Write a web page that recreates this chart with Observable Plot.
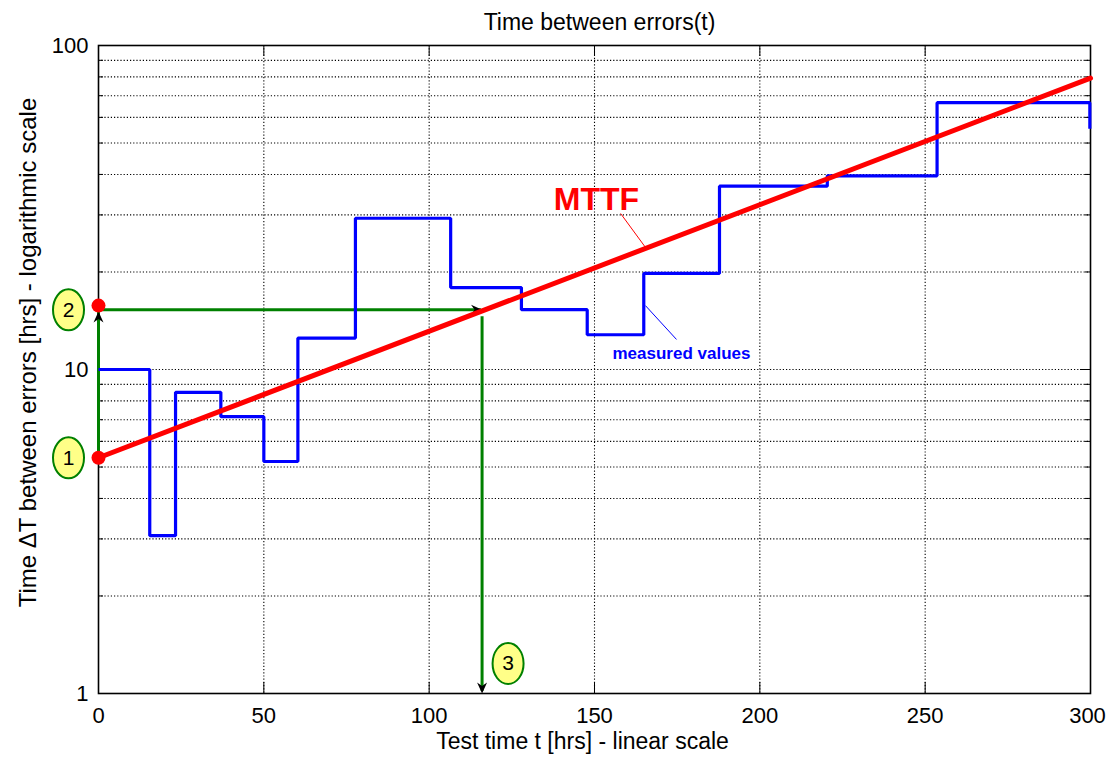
<!DOCTYPE html>
<html>
<head>
<meta charset="utf-8">
<script src="https://cdn.jsdelivr.net/npm/d3@7"></script>
<script src="https://cdn.jsdelivr.net/npm/@observablehq/plot@0.6"></script>
<style>
  html, body { margin: 0; padding: 0; background: #fff; }
  #chart svg { display: block; }
</style>
</head>
<body>
<div id="chart"></div>
<script>
// ---- Data ----
// measured step values: interval start times [hrs] and time between errors [hrs]
const stepStart = [0, 15.5, 23.3, 37, 50, 60.3, 77.7, 106.5, 127.9, 147.8, 164.9, 187.8, 220.4, 253.6];
const stepValue = [10, 3.07, 8.5, 7.15, 5.2, 12.5, 29.3, 17.9, 15.3, 12.8, 19.8, 36.8, 39.6, 66.6];
const stepEndT = 299.8;
const stepEndValue = 55.3;

// MTTF regression line (end points)
const mttfT = [0, 300];
const mttfV = [5.34, 79.3];

// construction points 1, 2, 3
const point1 = {t: 0, v: 5.34};
const point2 = {t: 0, v: 15.75};
const readT = 116;          // point 3 on the time axis
const readV = 15.28;        // MTTF value at point 3

// axes / ticks
const xTicks = [0, 50, 100, 150, 200, 250];
const xLastTick = [300];
const yTicks = [1, 10, 100];
const yMinor = [2, 3, 4, 5, 6, 7, 8, 9, 20, 30, 40, 50, 60, 70, 80, 90];
const xGrid = [50, 100, 150, 200, 250];
const yGrid = [2, 3, 4, 5, 6, 7, 8, 9, 10, 20, 30, 40, 50, 60, 70, 80, 90];

// texts
const title = "Time between errors(t)";
const xLabel = "Test time t [hrs] - linear scale";
const yLabel = "Time \u0394T between errors [hrs] - logarithmic scale";

// ---- Build tables ----
const steps = stepStart.map((t, i) => ({t, v: stepValue[i]}));
steps.push({t: stepEndT, v: stepValue[stepValue.length - 1]});
steps.push({t: stepEndT, v: stepEndValue});
const mttf = mttfT.map((t, i) => ({t, v: mttfV[i]}));

const W = 1106, H = 757, mL = 98, mR = 16, mT = 45, mB = 64;
const innerW = W - mL - mR, innerH = H - mT - mB;
const green = "#008000";
const font = "'Liberation Sans', Arial, Helvetica, sans-serif";

const ellipseSymbol = {
  draw(ctx) {
    const rx = 15.5, ry = 20.5, k = 0.5523;
    ctx.moveTo(rx, 0);
    ctx.bezierCurveTo(rx, ry * k, rx * k, ry, 0, ry);
    ctx.bezierCurveTo(-rx * k, ry, -rx, ry * k, -rx, 0);
    ctx.bezierCurveTo(-rx, -ry * k, -rx * k, -ry, 0, -ry);
    ctx.bezierCurveTo(rx * k, -ry, rx, -ry * k, rx, 0);
    ctx.closePath();
  }
};
const arrowSymbol = {
  draw(ctx) {
    ctx.moveTo(0, 0);
    ctx.lineTo(5, 11);
    ctx.lineTo(0, 7.5);
    ctx.lineTo(-5, 11);
    ctx.closePath();
  }
};

const leftLabels = [
  {t: point1.t, v: point1.v, text: "1"},
  {t: point2.t, v: readV, text: "2"}
];
const axisLabel = [{t: readT, v: 1, text: "3"}];

function badge(data, dx, dy) {
  return [
    Plot.dot(data, {x: "t", y: "v", dx, dy, symbol: ellipseSymbol, fill: "#ffff88", stroke: green, strokeWidth: 2}),
    Plot.text(data, {x: "t", y: "v", dx, dy, text: "text", fontSize: 21, fill: "black"})
  ];
}

const gridStyle = {stroke: "black", strokeWidth: 1.1, strokeDasharray: "1.2,2", strokeOpacity: 1};

const chart = Plot.plot({
  width: W, height: H,
  marginLeft: mL, marginRight: mR, marginTop: mT, marginBottom: mB,
  style: {fontFamily: font, fontSize: "22px", background: "white", color: "black", overflow: "visible"},
  x: {domain: [0, 300]},
  y: {type: "log", domain: [1, 100]},
  marks: [
    // dotted grid
    Plot.ruleY(yGrid, gridStyle),
    Plot.ruleX(xGrid, gridStyle),
    // inward ticks
    Plot.tickY(yMinor, {y: d => d, insetRight: innerW - 5, stroke: "black"}),
    Plot.tickY(yMinor, {y: d => d, insetLeft: innerW - 5, stroke: "black"}),
    Plot.tickY([10], {y: d => d, insetRight: innerW - 10, stroke: "black"}),
    Plot.tickY([10], {y: d => d, insetLeft: innerW - 10, stroke: "black"}),
    Plot.tickX(xGrid, {x: d => d, insetTop: innerH - 11, stroke: "black"}),
    Plot.tickX(xGrid, {x: d => d, insetBottom: innerH - 11, stroke: "black"}),
    Plot.frame({stroke: "black", strokeWidth: 1.6}),
    // axes labels
    Plot.axisX(xTicks, {tickSize: 0, tickPadding: 14, fontSize: 22, label: null, tickFormat: d => String(d)}),
    Plot.axisX(xLastTick, {tickSize: 0, tickPadding: 14, fontSize: 22, label: null, dx: -3, tickFormat: d => String(d)}),
    Plot.axisY(yTicks, {tickSize: 0, tickPadding: 10, fontSize: 22, label: null, tickFormat: d => String(d)}),
    // green construction lines
    Plot.link([{t1: point1.t, v1: point1.v, t2: point2.t, v2: 15.1}], {x1: "t1", y1: "v1", x2: "t2", y2: "v2", stroke: green, strokeWidth: 3}),
    Plot.link([{t1: point2.t, v1: readV, t2: readT - 0.3, v2: readV}], {x1: "t1", y1: "v1", x2: "t2", y2: "v2", stroke: green, strokeWidth: 3}),
    Plot.link([{t1: readT, v1: 14.6, t2: readT, v2: 1.02}], {x1: "t1", y1: "v1", x2: "t2", y2: "v2", stroke: green, strokeWidth: 3}),
    // arrowheads
    Plot.dot([{t: point2.t, v: 15.1}], {x: "t", y: "v", symbol: arrowSymbol, fill: "black", stroke: "none", rotate: 0}),
    Plot.dot([{t: readT, v: readV}], {x: "t", y: "v", symbol: arrowSymbol, fill: "black", stroke: "none", rotate: 90}),
    Plot.dot([{t: readT, v: 1}], {x: "t", y: "v", symbol: arrowSymbol, fill: "black", stroke: "none", rotate: 180}),
    // measured values (step line)
    Plot.line(steps, {x: "t", y: "v", curve: "step-after", stroke: "#0000ff", strokeWidth: 3.2, strokeLinejoin: "miter", strokeLinecap: "butt"}),
    // MTTF line
    Plot.line(mttf, {x: "t", y: "v", stroke: "#ff0000", strokeWidth: 5}),
    // red points 1 and 2
    Plot.dot([point1, point2], {x: "t", y: "v", r: 7, fill: "#ff0000", stroke: "none"}),
    // yellow ellipses with numbers
    ...badge(leftLabels, -30, 0),
    ...badge(axisLabel, 26, -30),
    // annotations
    Plot.text(["MTTF"], {x: 150.6, y: 30.96, lineAnchor: "bottom", fontSize: 32, fontWeight: "bold", fill: "#ff0000"}),
    Plot.link([{t1: 157.9, v1: 30.3, t2: 165.7, v2: 23.6}], {x1: "t1", y1: "v1", x2: "t2", y2: "v2", stroke: "#ff0000", strokeWidth: 1}),
    Plot.text(["measured values"], {x: 176.3, y: 10.81, lineAnchor: "bottom", fontSize: 17, fontWeight: "bold", fill: "#0000ff"}),
    Plot.link([{t1: 165.4, v1: 15.75, t2: 174.8, v2: 12.38}], {x1: "t1", y1: "v1", x2: "t2", y2: "v2", stroke: "#0000ff", strokeWidth: 1}),
    // titles
    Plot.text([title], {frameAnchor: "top", textAnchor: "middle", lineAnchor: "bottom", dx: 5, dy: -16, fontSize: 23, fill: "black"}),
    Plot.text([xLabel], {frameAnchor: "bottom", textAnchor: "middle", lineAnchor: "bottom", dx: -12, dy: 55, fontSize: 23, fill: "black"}),
    Plot.text([yLabel], {frameAnchor: "left", textAnchor: "middle", lineAnchor: "middle", rotate: -90, dx: -70, dy: -17, fontSize: 24, fill: "black"})
  ]
});

document.getElementById("chart").append(chart);
</script>
</body>
</html>
